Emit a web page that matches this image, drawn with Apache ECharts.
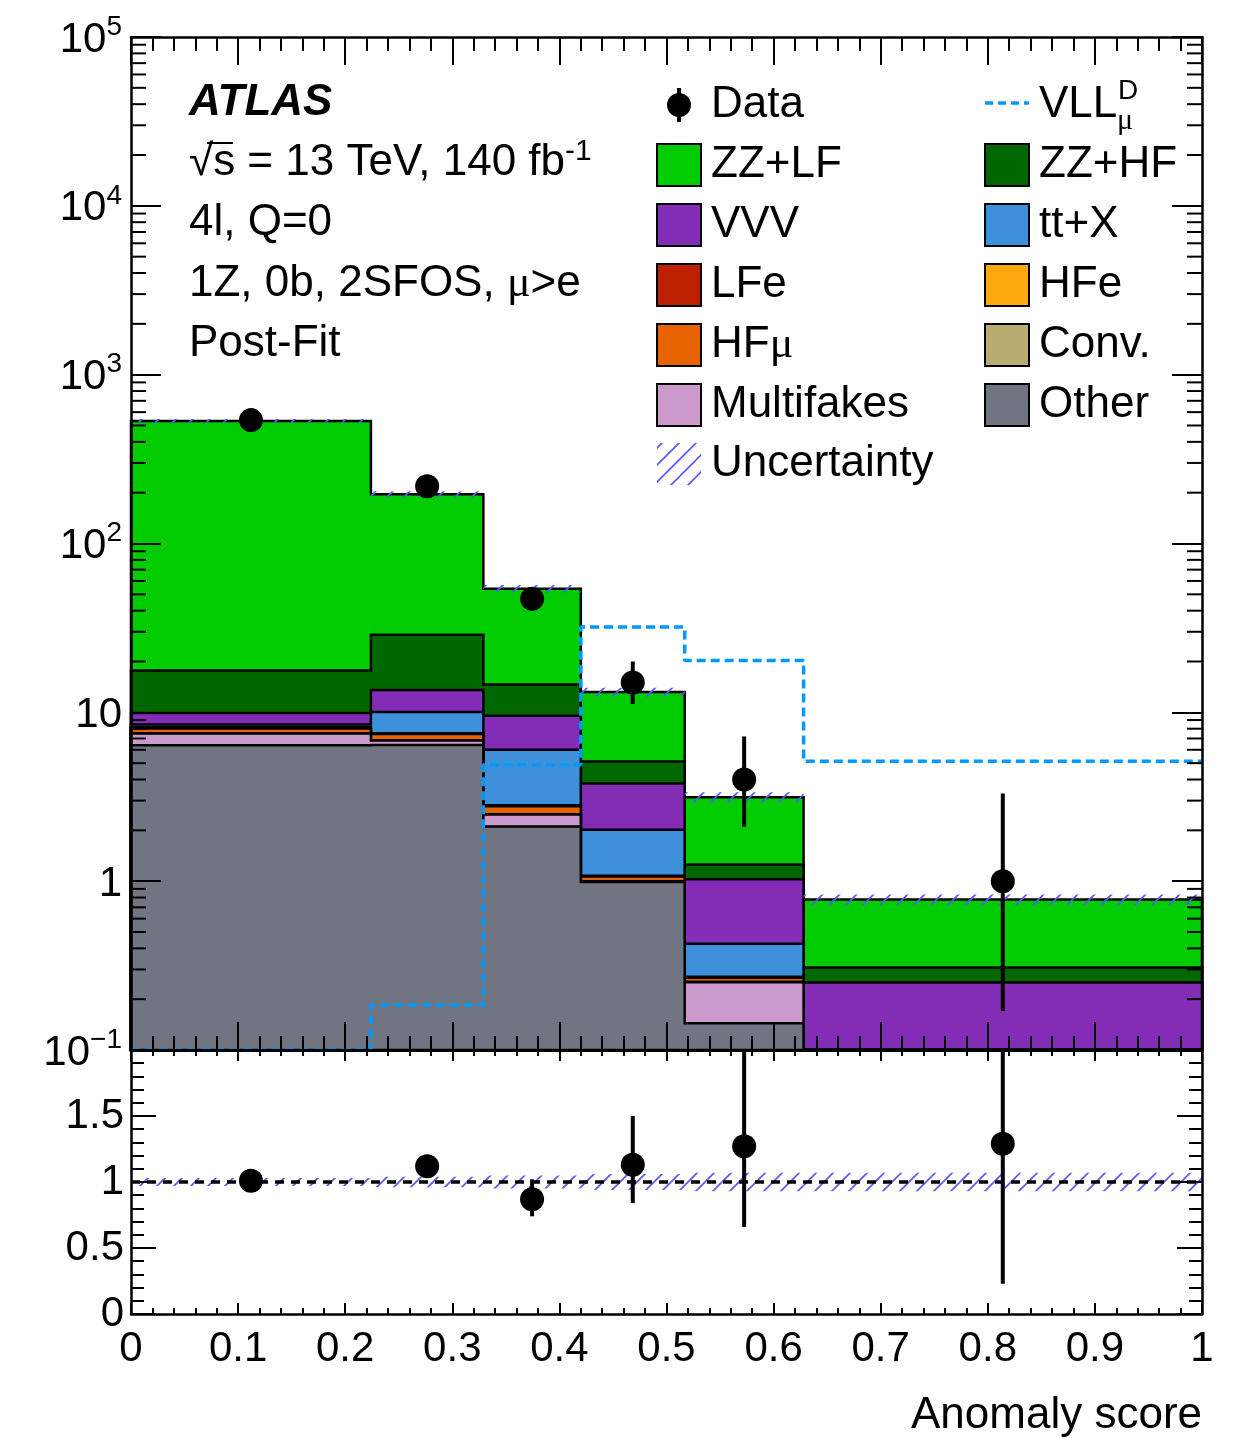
<!DOCTYPE html>
<html><head><meta charset="utf-8">
<script src="https://cdn.jsdelivr.net/npm/echarts/dist/echarts.min.js"></script>
<style>html,body{margin:0;padding:0;background:#fff}#c{width:1241px;height:1438px}</style>
</head><body><div id="c"></div>
<script>
// ---------------- data ----------------
const binEdges = [0, 0.224, 0.329, 0.42, 0.517, 0.628, 1.0];
// stacked backgrounds (bottom -> top)
const other      = [6.38, 6.4, 2.11, 0.99, 0.144, 0.03];
const multifakes = [1.1, 0.4, 0.37, 0.004, 0.108, 0.01];
const conv       = [0.01, 0.01, 0.01, 0.002, 0.002, 0.002];
const hfMu       = [0.52, 0.64, 0.29, 0.07, 0.014, 0.005];
const hfE        = [0.05, 0.02, 0.02, 0.005, 0.002, 0.002];
const lfE        = [0.1, 0.03, 0.02, 0.005, 0.002, 0.002];
const ttX        = [0.31, 2.56, 3.19, 0.94, 0.154, 0.03];
const vvv        = [1.43, 3.5, 3.52, 1.77, 0.6, 0.17];
const zzHF       = [7.8, 15.2, 5.1, 1.32, 0.23, 0.057];
const zzLF       = [513, 167, 39.4, 8.1, 1.89, 0.47];
// relative uncertainty of the prediction
const uncRel     = [0.03, 0.04, 0.05, 0.06, 0.07, 0.07];
// signal
const vllMuD     = [0.1, 0.185, 4.9, 32, 20.3, 5.13];
// data
const dataX       = [0.112, 0.2765, 0.3745, 0.4685, 0.5725, 0.814];
const dataY       = [538, 218, 47, 15, 4, 1];
const dataErrLow  = [23, 15, 6.8, 3.8, 1.9, 0.83];
const dataErrHigh = [24, 16, 7.9, 5.0, 3.2, 2.3];
// ratio panel
const ratioY       = [1.01, 1.12, 0.87, 1.13, 1.27, 1.29];
const ratioErrLow  = [0.04, 0.08, 0.13, 0.29, 0.61, 1.06];
const ratioErrHigh = [0.05, 0.08, 0.15, 0.37, 1.0, 2.96];
// tick labels
const xTickLabels = ['0','0.1','0.2','0.3','0.4','0.5','0.6','0.7','0.8','0.9','1'];
const ratioTickLabels = ['0','0.5','1','1.5',''];

// ---------------- styling ----------------
const FONT = '"Liberation Sans", Arial, Helvetica, sans-serif';
const SERIF = '"Liberation Serif", "DejaVu Serif", serif';
const YMIN = 0.1, YMAX = 1e5;
const layers = [
  {name:'Other', vals: other, color:'#717581'},
  {name:'Multifakes', vals: multifakes, color:'#cc99cc'},
  {name:'Conv.', vals: conv, color:'#b9ac70'},
  {name:'HFμ', vals: hfMu, color:'#e76300'},
  {name:'HFe', vals: hfE, color:'#ffa90e'},
  {name:'LFe', vals: lfE, color:'#bd1f01'},
  {name:'tt+X', vals: ttX, color:'#3f90da'},
  {name:'VVV', vals: vvv, color:'#832db6'},
  {name:'ZZ+HF', vals: zzHF, color:'#006600'},
  {name:'ZZ+LF', vals: zzLF, color:'#00cc00'}
];
const nb = binEdges.length - 1;
const cumul = [];
{
  const run = new Array(nb).fill(0);
  layers.forEach((L) => { for (let i=0;i<nb;i++) run[i] += L.vals[i]; cumul.push(run.slice()); });
}
const total = cumul[cumul.length-1];

const hatchCanvas = (function(){
  const s = 17, c = document.createElement('canvas');
  c.width = s; c.height = s;
  const g = c.getContext('2d');
  g.strokeStyle = '#5a5aff'; g.lineWidth = 1.7;
  g.beginPath();
  g.moveTo(0, s); g.lineTo(s, 0);
  g.moveTo(-s, s); g.lineTo(s, -s);
  g.moveTo(0, 2*s); g.lineTo(2*s, 0);
  g.stroke();
  return c;
})();
const hatchFill = {image: hatchCanvas, repeat: 'repeat'};

const clampLog = v => Math.min(Math.max(v, YMIN), YMAX);
const clampR = v => Math.min(Math.max(v, 0), 2);

function stackRender(params, api) {
  const k = api.value(2);
  const cum = cumul[k];
  const pts = [api.coord([binEdges[0], YMIN])];
  for (let i=0;i<nb;i++){
    const y = clampLog(cum[i]);
    pts.push(api.coord([binEdges[i], y]));
    pts.push(api.coord([binEdges[i+1], y]));
  }
  pts.push(api.coord([binEdges[nb], YMIN]));
  return {type:'polygon', shape:{points: pts},
    style:{fill: layers[k].color, stroke:'#000', lineWidth: 2.5, lineJoin:'miter'}};
}
function bandRender(ratio) {
  return function(params, api){
    const i = api.value(2);
    const c = ratio ? 1 : total[i];
    const u = uncRel[i];
    const lo = ratio ? clampR(c*(1-u)) : clampLog(c*(1-u));
    const hi = ratio ? clampR(c*(1+u)) : clampLog(c*(1+u));
    const p0 = api.coord([binEdges[i], hi]);
    const p1 = api.coord([binEdges[i+1], lo]);
    return {type:'rect', shape:{x:p0[0], y:p0[1], width:p1[0]-p0[0], height:p1[1]-p0[1]},
      style:{fill: hatchFill, stroke: null}};
  };
}
function pointRender(ratio) {
  return function(params, api){
    const x = api.value(0), y = api.value(1), lo = api.value(2), hi = api.value(3);
    const cl = ratio ? clampR : clampLog;
    const c = api.coord([x, y]);
    const a = api.coord([x, cl(lo)]), b = api.coord([x, cl(hi)]);
    return {type:'group', children:[
      {type:'line', shape:{x1:c[0], y1:a[1], x2:c[0], y2:b[1]}, style:{stroke:'#000', lineWidth:4}},
      {type:'circle', shape:{cx:c[0], cy:c[1], r:12}, style:{fill:'#000'}}
    ]};
  };
}
const minorLogVals = [];
for (let e=-1;e<5;e++) for (let m=2;m<=9;m++) minorLogVals.push([0, m*Math.pow(10,e)]);
function minorTickRender(params, api){
  const p = api.coord([0, api.value(1)]);
  const cs = params.coordSys;
  return {type:'group', children:[
    {type:'line', shape:{x1:cs.x, y1:p[1], x2:cs.x+15, y2:p[1]}, style:{stroke:'#000', lineWidth:2}},
    {type:'line', shape:{x1:cs.x+cs.width-15, y1:p[1], x2:cs.x+cs.width, y2:p[1]}, style:{stroke:'#000', lineWidth:2}}
  ]};
}

function mkX(gi, pos, labels, tl, ml){
  return {type:'value', gridIndex:gi, position:pos, min:0, max:1, interval:0.1, z:10,
    axisLine:{show:true, onZero:false, lineStyle:{color:'#000', width:2.5}},
    axisTick:{show:true, inside:true, length:tl, lineStyle:{color:'#000', width:2}},
    minorTick:{show:true, splitNumber:5, length:ml, lineStyle:{color:'#000', width:2}},
    splitLine:{show:false}, minorSplitLine:{show:false},
    axisLabel:{show:labels, margin:14, fontSize:42, fontFamily:FONT, color:'#000',
      showMinLabel:true, showMaxLabel:true, hideOverlap:false,
      formatter: v => xTickLabels[Math.round(v*10)]}};
}
function logLabel(v){
  const e = Math.round(Math.log10(v));
  if (e === 0) return '{b|1}';
  if (e === 1) return '{b|10}';
  return '{b|10}{s|' + (e < 0 ? '\u2212' + (-e) : e) + '}';
}
function mkLogY(pos, labels){
  return {type:'log', gridIndex:0, position:pos, min:YMIN, max:YMAX, logBase:10, z:10,
    axisLine:{show:true, onZero:false, lineStyle:{color:'#000', width:2.5}},
    axisTick:{show:true, inside:true, length:30, lineStyle:{color:'#000', width:2}},
    minorTick:{show:false}, splitLine:{show:false},
    axisLabel:{show:labels, margin:9, color:'#000', formatter: logLabel,
      rich:{ b:{fontSize:42, fontFamily:FONT, color:'#000', padding:[6,0,0,0], verticalAlign:'bottom'},
             s:{fontSize:28, fontFamily:FONT, color:'#000', verticalAlign:'top'} }}};
}
function mkRY(pos, labels){
  return {type:'value', gridIndex:1, position:pos, min:0, max:2, interval:0.5, z:10,
    axisLine:{show:true, onZero:false, lineStyle:{color:'#000', width:2.5}},
    axisTick:{show:true, inside:true, length:25, lineStyle:{color:'#000', width:2}},
    minorTick:{show:true, splitNumber:5, length:13, lineStyle:{color:'#000', width:2}},
    splitLine:{show:false}, minorSplitLine:{show:false},
    axisLabel:{show:labels, margin:7, fontSize:42, fontFamily:FONT, color:'#000',
      showMinLabel:true, showMaxLabel:true,
      formatter: v => ratioTickLabels[Math.round(v*2)]}};
}

// ---------------- graphic (texts + legend) ----------------
const FS = 44;
const T = (x, y, text, extra) => Object.assign({type:'text', x:x, y:y, z:50,
  style:Object.assign({text:text, fontSize:FS, fontFamily:FONT, fill:'#000',
    textAlign:'left', textVerticalAlign:'middle', align:'left', verticalAlign:'middle'}, extra||{})});
const graphics = [
  T(189, 103, 'ATLAS', {fontWeight:'bold', fontStyle:'italic', fontSize:44}),
  T(189, 163, '√s = 13 TeV, 140 fb{sup|-1}', {rich:{sup:{fontSize:30, fontFamily:FONT, verticalAlign:'top', padding:[0,0,22,0]}}}),
  {type:'line', z:50, shape:{x1:207, y1:143, x2:233, y2:143}, style:{stroke:'#000', lineWidth:2}},
  T(189, 223, '4l, Q=0'),
  T(189, 284, '1Z, 0b, 2SFOS, {m|μ}>e', {rich:{m:{fontSize:FS, fontFamily:SERIF}}}),
  T(189, 344, 'Post-Fit'),
];
// legend
const col1Box = 657, col1Txt = 711, col2Box = 985, col2Txt = 1039, boxW = 44, boxH = 42;
const rowY = [105, 165, 225, 285, 345, 405, 464];
// Data entry
graphics.push({type:'line', z:50, shape:{x1:679, y1:rowY[0]-17, x2:679, y2:rowY[0]+17}, style:{stroke:'#000', lineWidth:4}});
graphics.push({type:'circle', z:50, shape:{cx:679, cy:rowY[0], r:12}, style:{fill:'#000'}});
graphics.push(T(col1Txt, rowY[0], 'Data'));
// VLL entry
graphics.push({type:'line', z:50, shape:{x1:col2Box, y1:rowY[0]-2, x2:col2Box+boxW, y2:rowY[0]-2}, style:{stroke:'#0099ff', lineWidth:3.5, lineDash:[8,5]}});
graphics.push(T(col2Txt, rowY[0], 'VLL'));
graphics.push(T(1118, 91, 'D', {fontSize:28}));
graphics.push(T(1117, 121, 'μ', {fontSize:30, fontFamily:SERIF}));
const legendEntries = [
  [1, col1Box, col1Txt, 'ZZ+LF', '#00cc00'], [1, col2Box, col2Txt, 'ZZ+HF', '#006600'],
  [2, col1Box, col1Txt, 'VVV', '#832db6'],   [2, col2Box, col2Txt, 'tt+X', '#3f90da'],
  [3, col1Box, col1Txt, 'LFe', '#bd1f01'],   [3, col2Box, col2Txt, 'HFe', '#ffa90e'],
  [4, col1Box, col1Txt, 'HF{m|μ}', '#e76300'], [4, col2Box, col2Txt, 'Conv.', '#b9ac70'],
  [5, col1Box, col1Txt, 'Multifakes', '#cc99cc'], [5, col2Box, col2Txt, 'Other', '#717581']
];
legendEntries.forEach(([r, bx, tx, label, col]) => {
  graphics.push({type:'rect', z:50, shape:{x:bx, y:rowY[r]-boxH/2, width:boxW, height:boxH},
    style:{fill:col, stroke:'#000', lineWidth:2}});
  graphics.push(T(tx, rowY[r], label, {rich:{m:{fontSize:FS, fontFamily:SERIF}}}));
});
graphics.push({type:'rect', z:50, shape:{x:col1Box, y:rowY[6]-boxH/2, width:boxW, height:boxH}, style:{fill:hatchFill}});
graphics.push(T(col1Txt, rowY[6], 'Uncertainty'));
// axis title
graphics.push({type:'text', z:50, x:1202, y:1416, style:{text:'Anomaly score', fontSize:44, fontFamily:FONT, fill:'#000',
  textAlign:'right', textVerticalAlign:'middle', align:'right', verticalAlign:'middle'}});

// ---------------- option ----------------
const option = {
  animation: false,
  backgroundColor: '#fff',
  grid: [
    {left:131, top:37, width:1071, height:1013},
    {left:131, top:1050, width:1071, height:264}
  ],
  xAxis: [ mkX(0,'bottom',false,28,14), mkX(0,'top',false,28,14), mkX(1,'bottom',true,11,6), mkX(1,'top',false,11,6) ],
  yAxis: [ mkLogY('left', true), mkLogY('right', false), mkRY('left', true), mkRY('right', false) ],
  series: [
    {type:'custom', name:'stack', xAxisIndex:0, yAxisIndex:0, z:2, silent:true,
      renderItem: stackRender, encode:{x:0, y:1},
      data: layers.map((L, k) => [0, 1, k]).reverse()},
    {type:'custom', name:'Uncertainty', xAxisIndex:0, yAxisIndex:0, z:3, silent:true,
      renderItem: bandRender(false), encode:{x:0, y:1},
      data: total.map((t, i) => [binEdges[i], t, i])},
    {type:'line', name:'VLL', xAxisIndex:0, yAxisIndex:0, z:4, silent:true, step:'end', symbol:'none',
      clip:false,
      lineStyle:{color:'#0099ff', width:3.5, type:[9,5]},
      data: binEdges.map((e, i) => [e, vllMuD[Math.min(i, nb-1)]])},
    {type:'custom', name:'Data', xAxisIndex:0, yAxisIndex:0, z:6, silent:true,
      renderItem: pointRender(false), encode:{x:0, y:1},
      data: dataY.map((y, i) => [dataX[i], y, y - dataErrLow[i], y + dataErrHigh[i]])},
    {type:'custom', name:'minorTicks', xAxisIndex:0, yAxisIndex:0, z:12, silent:true,
      renderItem: minorTickRender, encode:{x:0, y:1}, data: minorLogVals},
    {type:'custom', name:'ratioBand', xAxisIndex:2, yAxisIndex:2, z:3, silent:true,
      renderItem: bandRender(true), encode:{x:0, y:1},
      data: uncRel.map((u, i) => [binEdges[i], 1, i])},
    {type:'line', name:'one', xAxisIndex:2, yAxisIndex:2, z:4, silent:true, symbol:'none',
      lineStyle:{color:'#000', width:3.5, type:[9,7]}, data:[[0,1],[1,1]]},
    {type:'custom', name:'ratio', xAxisIndex:2, yAxisIndex:2, z:6, silent:true,
      renderItem: pointRender(true), encode:{x:0, y:1},
      data: ratioY.map((r, i) => [dataX[i], r, r - ratioErrLow[i], r + ratioErrHigh[i]])}
  ],
  graphic: graphics
};
const chart = echarts.init(document.getElementById('c'), null, {renderer:'canvas'});
chart.setOption(option);
</script></body></html>
